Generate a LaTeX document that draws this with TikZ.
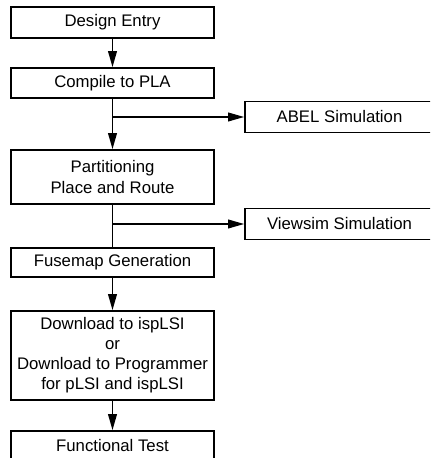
\documentclass[tikz,border=0pt]{standalone}
\usepackage{fontspec}
\setmainfont{Liberation Sans}
\usetikzlibrary{arrows.meta,positioning}

\begin{document}
\begin{tikzpicture}[
  box/.style={draw,line width=1.4pt,minimum width=6.09cm,inner sep=0pt,align=center,font=\fontsize{14.3pt}{17.1pt}\selectfont},
  sidebox/.style={box,minimum width=5.67cm,minimum height=0.93cm},
  flow/.style={line width=1.4pt,-{Triangle[length=0.48cm,width=0.26cm]}},
  plain/.style={line width=1.4pt}]
  \clip (0,0) rectangle (12.9,13.74);

  % Main column
  \node[box,minimum height=0.93cm] (design) at (3.375,13.065) {Design Entry};
  \node[box,minimum height=0.9cm] (compile) at (3.375,11.25) {Compile to PLA};
  \node[box,minimum height=1.62cm] (part) at (3.375,8.43) {Partitioning\\Place and Route};
  \node[box,minimum height=0.87cm] (fuse) at (3.375,5.865) {Fusemap Generation};
  \node[box,minimum height=2.67cm] (download) at (3.375,3.075) {Download to ispLSI\\or\\Download to Programmer\\for pLSI and ispLSI};
  \node[box,minimum height=0.9cm] (test) at (3.375,0.36) {Functional Test};

  % Simulation branches
  \coordinate (b1) at (3.375,10.23);
  \coordinate (b2) at (3.375,7.02);
  \node[sidebox] (abel) at (10.185,10.23) {ABEL Simulation};
  \node[sidebox] (viewsim) at (10.185,7.02) {Viewsim Simulation};

  % Connectors
  \draw[flow] (design) -- (compile);
  \draw[flow] (compile) -- (part);
  \draw[flow] (b1) -- (abel);
  \draw[plain] (part) -- (fuse);
  \draw[flow] (b2) -- (viewsim);
  \draw[flow] (fuse) -- (download);
  \draw[flow] (download) -- (test);
\end{tikzpicture}
\end{document}
